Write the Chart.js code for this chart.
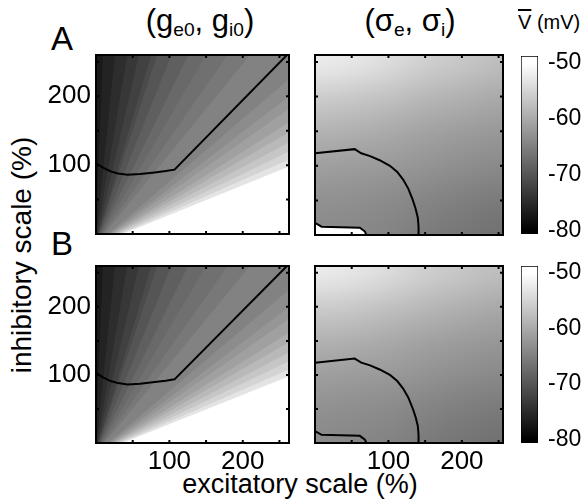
<!DOCTYPE html>
<html>
<head>
<meta charset="utf-8">
<script src="https://cdn.jsdelivr.net/npm/chart.js@4.4.1/dist/chart.umd.min.js"></script>
<style>
  body { margin: 0; width: 581px; height: 504px; background: #fff; position: relative; overflow: hidden;
         font-family: "Liberation Sans", Arial, sans-serif; color: #000; }
  .box { position: absolute; }
  .lbl { position: absolute; white-space: nowrap; line-height: 1; }
  .ctr { transform: translateX(-50%); }
  sub { font-size: 62%; vertical-align: -0.28em; line-height: 0; }
</style>
</head>
<body>
<div class="lbl" style="left:51px;top:22px;font-size:33px">A</div>
<div class="lbl" style="left:51px;top:227px;font-size:33px">B</div>
<div class="lbl ctr" style="left:200px;top:5px;font-size:31px">(g<sub>e0</sub>, g<sub>i0</sub>)</div>
<div class="lbl ctr" style="left:410px;top:5px;font-size:31px">(σ<sub>e</sub>, σ<sub>i</sub>)</div>
<div class="lbl" style="left:518px;top:12px;font-size:20px"><span style="text-decoration:overline">V</span> (mV)</div>
<div class="lbl ctr" style="left:300px;top:471px;font-size:27px">excitatory scale (%)</div>
<div class="lbl" style="left:22px;top:255px;font-size:28px;transform:translate(-50%,-50%) rotate(-90deg)">inhibitory scale (%)</div>

<div class="box" style="left:36px;top:45px"><canvas id="gA" width="259" height="195"></canvas></div>
<div class="box" style="left:310px;top:45px"><canvas id="sA" width="200" height="195"></canvas></div>
<div class="box" style="left:516px;top:40px"><canvas id="cA" width="65" height="210"></canvas></div>
<div class="box" style="left:36px;top:256px"><canvas id="gB" width="259" height="219"></canvas></div>
<div class="box" style="left:300px;top:256px"><canvas id="sB" width="215" height="219"></canvas></div>
<div class="box" style="left:516px;top:250px"><canvas id="cB" width="65" height="210"></canvas></div>

<script>
// axes (percent of control)
const gMaxX = 263;
const sMaxX = 256;
const maxY = 260;
const minorTicks = [50, 100, 150, 200, 250];
const tickLabels = [100, 200];
const cbarTicks = [-50, -60, -70, -80];
const cbarRange = [-80, -50];
const cbarLimits = [-80.6, -48.8];

// (g_e0, g_i0): contour bands fan out from one point; edges given as gi/ge ratio
const fanCentre = [-1, -16];
const bandRatios = [26.6, 10.3, 6.34, 4.65, 3.62, 3.28, 2.66, 2.18, 1.83, 1.53, 1.31,
                    0.913, 0.818, 0.75, 0.674, 0.621, 0.564, 0.515, 0.47, 0.432];
const bandValues = [-77.1, -75.9, -74.7, -73.5, -72.4, -71.2, -70.0, -68.8, -67.6, -66.8, -65.9,
                    -64.7, -63.5, -62.4, -61.2, -59.8, -58.2, -56.7, -55.1, -53.2, -49.0];
const gContourX = [0, 10, 20, 30, 43, 60, 80, 95, 107, 263];
const gContourY = [103, 96, 91, 88, 86, 87, 89.5, 91.5, 93.5, 263];

// (sigma_e, sigma_i): mean potential sampled every 50 %, rows from bottom up
const sGridX = [0, 50, 100, 150, 200, 250];
const sGridY = [0, 50, 100, 150, 200, 250];
const sFieldA = [
  [-63.8, -64.0, -64.5, -65.4, -66.1, -66.7],
  [-62.9, -63.2, -63.6, -64.4, -65.1, -65.6],
  [-61.2, -61.5, -61.9, -62.6, -63.3, -63.8],
  [-59.0, -59.3, -60.0, -60.8, -61.5, -62.1],
  [-55.8, -56.3, -57.2, -58.3, -59.2, -60.0],
  [-52.2, -52.8, -54.0, -55.5, -56.6, -57.6]
];
const sFieldB = [
  [-63.9, -64.1, -64.6, -65.5, -66.2, -66.8],
  [-63.0, -63.3, -63.7, -64.5, -65.2, -65.7],
  [-61.3, -61.6, -62.0, -62.7, -63.4, -63.9],
  [-59.1, -59.4, -60.1, -60.9, -61.6, -62.2],
  [-55.9, -56.4, -57.3, -58.4, -59.3, -60.1],
  [-52.3, -52.9, -54.1, -55.6, -56.7, -57.7]
];
const sContourX = [0, 0, 54, 63, 75, 88, 102, 112, 120, 127, 133, 137, 140, 141, 141, 70, 68, 61, 9, 0];
const sContourY = [17.5, 118, 124, 118, 114, 108, 100, 91, 80, 67, 51, 38, 25, 12, 0, 0, 5, 10.5, 12, 17.5];
const notchX = [0, 0, 9, 61, 68, 70];
const notchY = [0, 17.5, 12, 10.5, 5, 0];

const fontFamily = '"Liberation Sans", Arial, sans-serif';

function grayOf(v) {
  const t = Math.max(0, Math.min(1, (v - cbarRange[0]) / (cbarRange[1] - cbarRange[0])));
  const g = Math.round(t * 255);
  return `rgb(${g},${g},${g})`;
}

function pts(xs, ys) {
  return xs.map((x, i) => ({x, y: ys[i]}));
}

// keep the chart area where the layout padding puts it
function fixSize(scale, size) {
  if (scale.isHorizontal()) scale.height = size; else scale.width = size;
  scale.paddingTop = scale.paddingBottom = scale.paddingLeft = scale.paddingRight = 0;
}

// frame and inward ticks on all four sides
const frameTicks = {
  id: 'frameTicks',
  afterDatasetsDraw(chart) {
    const {ctx, chartArea: a, scales: {x, y}} = chart;
    ctx.save();
    ctx.strokeStyle = '#000';
    ctx.lineWidth = 2;
    ctx.beginPath();
    minorTicks.forEach(v => {
      if (v < x.max) {
        const px = x.getPixelForValue(v);
        ctx.moveTo(px, a.bottom); ctx.lineTo(px, a.bottom - 3);
        ctx.moveTo(px, a.top); ctx.lineTo(px, a.top + 3);
      }
      if (v < y.max) {
        const py = y.getPixelForValue(v);
        ctx.moveTo(a.left, py); ctx.lineTo(a.left + 3, py);
        ctx.moveTo(a.right, py); ctx.lineTo(a.right - 3, py);
      }
    });
    ctx.stroke();
    ctx.strokeRect(a.left, a.top, a.width, a.height);
    ctx.restore();
  }
};

// smooth field image under the datasets
const fieldImage = {
  id: 'fieldImage',
  beforeDraw(chart, args, opts) {
    if (!opts.values) return;
    const {ctx, chartArea: a, scales: {x, y}} = chart;
    const vals = opts.values;
    const nx = sGridX.length, ny = sGridY.length;
    const off = document.createElement('canvas');
    off.width = nx; off.height = ny;
    const octx = off.getContext('2d');
    for (let r = 0; r < ny; r++) {
      for (let c = 0; c < nx; c++) {
        octx.fillStyle = grayOf(vals[r][c]);
        octx.fillRect(c, ny - 1 - r, 1, 1);
      }
    }
    const dx = sGridX[1] - sGridX[0], dy = sGridY[1] - sGridY[0];
    const left = x.getPixelForValue(sGridX[0] - dx / 2);
    const right = x.getPixelForValue(sGridX[nx - 1] + dx / 2);
    const top = y.getPixelForValue(sGridY[ny - 1] + dy / 2);
    const bottom = y.getPixelForValue(sGridY[0] - dy / 2);
    ctx.save();
    ctx.beginPath();
    ctx.rect(a.left, a.top, a.width, a.height);
    ctx.clip();
    ctx.imageSmoothingEnabled = true;
    ctx.imageSmoothingQuality = 'high';
    ctx.drawImage(off, left, top, right - left, bottom - top);
    ctx.restore();
  }
};

function linAxis(max, opts) {
  return {
    type: 'linear', min: 0, max, position: opts.position,
    grid: {display: false, drawTicks: false},
    border: {display: false},
    ticks: {
      display: opts.labels, stepSize: 50, includeBounds: false, autoSkip: false, maxRotation: 0,
      padding: opts.padding, color: '#000', font: {size: 26, family: fontFamily},
      callback: v => tickLabels.includes(v) ? String(v) : ''
    },
    afterFit: scale => fixSize(scale, opts.size)
  };
}

function contourSet(xs, ys) {
  return {data: pts(xs, ys), borderColor: '#000', borderWidth: 2, pointRadius: 0, fill: false, tension: 0};
}

function fanSets(xMax) {
  const edges = bandRatios.concat([0]);
  return edges.map((r, k) => ({
    data: [{x: fanCentre[0], y: fanCentre[1]}, {x: xMax, y: fanCentre[1] + r * (xMax - fanCentre[0])}],
    fill: 'end', backgroundColor: grayOf(bandValues[k]), borderWidth: 0, pointRadius: 0, tension: 0
  }));
}

function panel(id, cfg) {
  new Chart(document.getElementById(id), {
    type: 'line',
    data: {datasets: cfg.datasets},
    options: {
      responsive: false, animation: false, devicePixelRatio: 1,
      layout: {padding: cfg.padding},
      plugins: {legend: {display: false}, tooltip: {enabled: false}, fieldImage: {values: cfg.field}},
      scales: {
        x: linAxis(cfg.maxX, {position: 'bottom', labels: cfg.xLabels, size: cfg.xSize, padding: 3}),
        y: linAxis(maxY, {position: 'left', labels: cfg.yLabels, size: cfg.ySize, padding: 5})
      }
    },
    plugins: [fieldImage, frameTicks]
  });
}

function colorbar(id, padding) {
  new Chart(document.getElementById(id), {
    type: 'bar',
    data: {
      labels: [''],
      datasets: [{
        data: [cbarLimits],
        barPercentage: 1, categoryPercentage: 1,
        borderWidth: 1, borderColor: '#000', borderSkipped: false,
        backgroundColor(c) {
          const y = c.chart.scales.y;
          const p0 = y ? y.getPixelForValue(cbarRange[0]) : NaN;
          const p1 = y ? y.getPixelForValue(cbarRange[1]) : NaN;
          if (!isFinite(p0) || !isFinite(p1)) return '#808080';
          const g = c.chart.ctx.createLinearGradient(0, p0, 0, p1);
          g.addColorStop(0, '#000');
          g.addColorStop(1, '#fff');
          return g;
        }
      }]
    },
    options: {
      responsive: false, animation: false, devicePixelRatio: 1,
      layout: {padding},
      plugins: {legend: {display: false}, tooltip: {enabled: false}},
      scales: {
        x: {display: false},
        y: {
          position: 'right', min: cbarLimits[0], max: cbarLimits[1],
          grid: {display: false, drawTicks: false}, border: {display: false},
          ticks: {
            stepSize: 10, includeBounds: false, padding: 10, color: '#000',
            font: {size: 23, family: fontFamily},
            callback: v => cbarTicks.includes(v) ? String(v) : ''
          },
          afterFit: scale => fixSize(scale, 43)
        }
      }
    }
  });
}

panel('gA', {
  datasets: [contourSet(gContourX, gContourY)].concat(fanSets(gMaxX)),
  maxX: gMaxX, xLabels: false, yLabels: true, xSize: 0, ySize: 60,
  padding: {left: 0, right: 6, top: 10, bottom: 6}
});
panel('sA', {
  datasets: [contourSet(sContourX, sContourY),
             {data: pts(notchX, notchY), fill: 'shape', backgroundColor: '#fff', borderWidth: 0, pointRadius: 0}],
  field: sFieldA,
  maxX: sMaxX, xLabels: false, yLabels: false, xSize: 0, ySize: 0,
  padding: {left: 5, right: 7, top: 10, bottom: 5}
});
panel('gB', {
  datasets: [contourSet(gContourX, gContourY)].concat(fanSets(gMaxX)),
  maxX: gMaxX, xLabels: true, yLabels: true, xSize: 32, ySize: 60,
  padding: {left: 0, right: 6, top: 10, bottom: 0}
});
panel('sB', {
  datasets: [contourSet(sContourX, sContourY)],
  field: sFieldB,
  maxX: sMaxX, xLabels: true, yLabels: false, xSize: 32, ySize: 0,
  padding: {left: 15, right: 12, top: 10, bottom: 0}
});
colorbar('cA', {left: 5, right: 0, top: 16, bottom: 16});
colorbar('cB', {left: 5, right: 0, top: 16, bottom: 17});
</script>
</body>
</html>
